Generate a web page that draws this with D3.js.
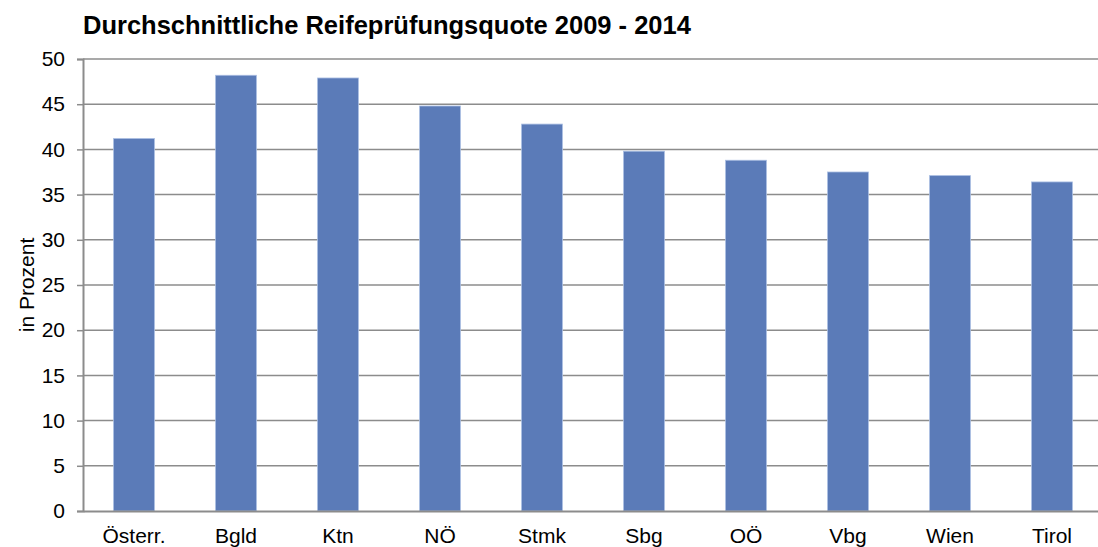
<!DOCTYPE html>
<html>
<head>
<meta charset="utf-8">
<script src="https://cdn.jsdelivr.net/npm/d3@7"></script>
<style>
  body { margin: 0; background: #fff; overflow: hidden; }
  text { font-family: "Liberation Sans", Arial, sans-serif; }
</style>
</head>
<body>
<svg id="chart"></svg>
<script>
var categories = ["Österr.", "Bgld", "Ktn", "NÖ", "Stmk", "Sbg", "OÖ", "Vbg", "Wien", "Tirol"];
var quote = [41.2, 48.2, 47.9, 44.8, 42.8, 39.8, 38.8, 37.5, 37.1, 36.4];
var yTicks = [0, 5, 10, 15, 20, 25, 30, 35, 40, 45, 50];

var svg = d3.select("#chart"),
    margin = {top: 59, right: -5, bottom: 36, left: 83},
    width = 1098 - margin.left - margin.right,
    height = 547 - margin.top - margin.bottom;
svg.attr("width", 1098).attr("height", 547);

var g = svg.append("g").attr("transform", "translate(" + margin.left + "," + margin.top + ")");

var x = d3.scaleBand().domain(categories).range([0, width]).paddingInner(0.6).paddingOuter(0.3),
    y = d3.scaleLinear().domain([0, 50]).range([height, 0]);

// gridlines
g.selectAll(".grid")
  .data(yTicks.slice(1))
  .enter().append("line")
    .attr("x1", 0).attr("x2", width)
    .attr("y1", function(d) { return y(d); })
    .attr("y2", function(d) { return y(d); })
    .attr("stroke", "#8c8c8c")
    .attr("stroke-width", 1.5);

// bars
g.selectAll(".bar")
  .data(quote)
  .enter().append("rect")
    .attr("x", function(d, i) { return x(categories[i]); })
    .attr("y", function(d) { return y(d); })
    .attr("width", x.bandwidth())
    .attr("height", function(d) { return height - y(d); })
    .attr("fill", "#5b7bb8")
    .attr("stroke", "#a9bde2")
    .attr("stroke-width", 0.8);

var yAxis = d3.axisLeft(y).tickValues(yTicks).tickSize(6).tickPadding(12);
var yG = g.append("g").call(yAxis);
yG.select(".domain").attr("stroke", "#8c8c8c").attr("stroke-width", 2);
yG.selectAll(".tick line").attr("stroke", "#8c8c8c").attr("stroke-width", 1.5);
yG.selectAll(".tick text").attr("font-size", 21).attr("fill", "#000");

var xAxis = d3.axisBottom(x).tickSize(0).tickPadding(17);
var xG = g.append("g").attr("transform", "translate(0," + height + ")").call(xAxis);
xG.select(".domain").attr("stroke", "#8c8c8c").attr("stroke-width", 2);
xG.selectAll(".tick text").attr("font-size", 21).attr("fill", "#000");

svg.append("text")
  .attr("x", 83).attr("y", 34)
  .attr("font-size", 25.5).attr("font-weight", "bold")
  .text("Durchschnittliche Reifeprüfungsquote 2009 - 2014");

svg.append("text")
  .attr("transform", "translate(34," + (margin.top + height / 2) + ") rotate(-90)")
  .attr("text-anchor", "middle")
  .attr("font-size", 21)
  .text("in Prozent");
</script>
</body>
</html>
